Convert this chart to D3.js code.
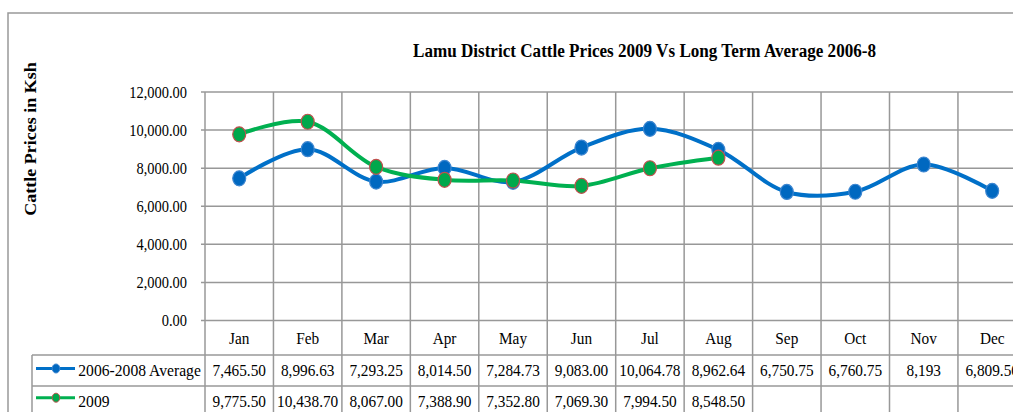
<!DOCTYPE html>
<html>
<head>
<meta charset="utf-8">
<script src="https://cdn.jsdelivr.net/npm/d3@7"></script>
<style>
  body { margin: 0; background: #fff; }
  svg { display: block; font-family: "Liberation Serif", "Times New Roman", serif; }
</style>
</head>
<body>
<svg id="chart" width="1013" height="412"></svg>
<script>
// Chart data
const months = ["Jan", "Feb", "Mar", "Apr", "May", "Jun", "Jul", "Aug", "Sep", "Oct", "Nov", "Dec"];
const avgValues = [7465.50, 8996.63, 7293.25, 8014.50, 7284.73, 9083.00, 10064.78, 8962.64, 6750.75, 6760.75, 8193, 6809.50];
const avgText = ["7,465.50", "8,996.63", "7,293.25", "8,014.50", "7,284.73", "9,083.00", "10,064.78", "8,962.64", "6,750.75", "6,760.75", "8,193", "6,809.50"];
const values2009 = [9775.50, 10438.70, 8067.00, 7388.90, 7352.80, 7069.30, 7994.50, 8548.50];
const yTicks = [0, 2000, 4000, 6000, 8000, 10000, 12000];
const seriesNames = ["2006-2008 Average", "2009"];

const svg = d3.select("#chart");
const grid = "#989898";
const squeeze = 0.9; // the source text is rendered a bit narrow

// plot area
const plotLeft = 205, plotTop = 92, plotBottom = 320.5, colW = 68.45;
const plotRight = plotLeft + colW * months.length;

const x = d3.scaleBand().domain(months).range([plotLeft, plotRight]);
const y = d3.scaleLinear().domain([0, 12000]).range([plotBottom, plotTop]);
const cx = i => x(months[i]) + x.bandwidth() / 2;

const at = (tx, ty, sx = squeeze) => `translate(${tx},${ty}) scale(${sx},1)`;

// outer border
svg.append("path")
  .attr("d", "M8,412 V13 H1013")
  .attr("fill", "none").attr("stroke", "#999").attr("stroke-width", 1.5);

// title
svg.append("text")
  .attr("transform", at(644.5, 57.3, 0.9))
  .attr("text-anchor", "middle")
  .attr("font-size", 19).attr("font-weight", "bold")
  .text("Lamu District Cattle Prices 2009 Vs Long Term Average 2006-8");

// y axis title
svg.append("text")
  .attr("transform", "translate(36,139) rotate(-90) scale(1,0.87)")
  .attr("text-anchor", "middle")
  .attr("font-size", 18).attr("font-weight", "bold")
  .text("Cattle Prices in Ksh");

// horizontal gridlines + ticks
svg.append("g").selectAll("line").data(yTicks).join("line")
  .attr("x1", plotLeft - 4).attr("x2", plotRight)
  .attr("y1", d => y(d)).attr("y2", d => y(d))
  .attr("stroke", grid).attr("stroke-width", 1.5);

svg.append("g").selectAll("text").data(yTicks).join("text")
  .attr("transform", d => at(187, y(d) + 5.5, 0.85))
  .attr("text-anchor", "end")
  .attr("font-size", 17)
  .text(d => d3.format(",.2f")(d));

// vertical gridlines, running down through the data table
const colEdges = months.map(m => x(m)).concat([plotRight]);
svg.append("g").selectAll("line").data(colEdges).join("line")
  .attr("x1", d => d).attr("x2", d => d)
  .attr("y1", plotTop).attr("y2", 412)
  .attr("stroke", grid).attr("stroke-width", 1.5);

// data table rows
const rowY = [355, 386];
svg.append("g").selectAll("line").data(rowY).join("line")
  .attr("x1", 32).attr("x2", plotRight)
  .attr("y1", d => d).attr("y2", d => d)
  .attr("stroke", grid).attr("stroke-width", 1.5);
svg.append("line")
  .attr("x1", 32).attr("x2", 32).attr("y1", 355).attr("y2", 412)
  .attr("stroke", grid).attr("stroke-width", 1.5);

// month labels
svg.append("g").selectAll("text").data(months).join("text")
  .attr("transform", (d, i) => at(cx(i), 343.5))
  .attr("text-anchor", "middle").attr("font-size", 17)
  .text(d => d);

// table values
svg.append("g").selectAll("text").data(avgText).join("text")
  .attr("transform", (d, i) => at(cx(i), 375.5))
  .attr("text-anchor", "middle").attr("font-size", 17)
  .text(d => d);
svg.append("g").selectAll("text").data(values2009).join("text")
  .attr("transform", (d, i) => at(cx(i), 406.5))
  .attr("text-anchor", "middle").attr("font-size", 17)
  .text(d => d3.format(",.2f")(d));

// series
const series = [
  { name: seriesNames[0], values: avgValues, color: "#0070C8", marker: "#0068C0", stroke: "#3d86d0" },
  { name: seriesNames[1], values: values2009, color: "#00B050", marker: "#00A84C", stroke: "#C0504D" }
];

const line = d3.line()
  .x((d, i) => cx(i))
  .y(d => y(d))
  .curve(d3.curveCatmullRom.alpha(0.5));

series.forEach(s => {
  svg.append("path")
    .datum(s.values)
    .attr("d", line)
    .attr("fill", "none")
    .attr("stroke", s.color)
    .attr("stroke-width", 4)
    .attr("stroke-linecap", "round");
});

series.forEach(s => {
  svg.append("g").selectAll("ellipse").data(s.values).join("ellipse")
    .attr("cx", (d, i) => cx(i))
    .attr("cy", d => y(d))
    .attr("rx", 6.5).attr("ry", 7.5)
    .attr("fill", s.marker)
    .attr("stroke", s.stroke).attr("stroke-width", 1.2);
});

// legend keys in the table
series.forEach((s, i) => {
  const ly = [368.5, 397.7][i];
  const g = svg.append("g");
  g.append("line")
    .attr("x1", 36).attr("x2", 75).attr("y1", ly).attr("y2", ly)
    .attr("stroke", s.color).attr("stroke-width", 3);
  g.append("ellipse")
    .attr("cx", 56).attr("cy", ly).attr("rx", 3.8).attr("ry", 4.5)
    .attr("fill", s.marker).attr("stroke", s.stroke).attr("stroke-width", 1);
  g.append("text")
    .attr("transform", at(78.3, [375.5, 406.5][i], 0.92))
    .attr("font-size", 17)
    .text(s.name);
});
</script>
</body>
</html>
